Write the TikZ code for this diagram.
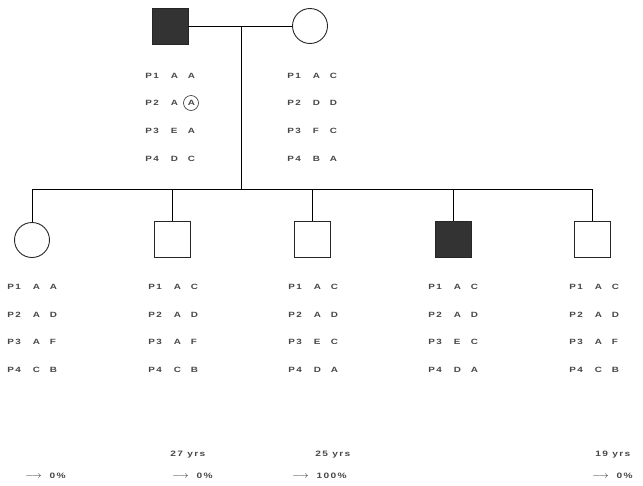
\documentclass[tikz,border=0pt]{standalone}
\usepackage{fontspec}
\newfontfamily\plotfont[FakeStretch=1.3,LetterSpace=18]{Liberation Sans Bold}
\begin{document}
\begin{tikzpicture}[x=1pt,y=-1pt,
  line width=0.9pt,
  sq/.style={draw=black!85,rectangle,minimum size=36pt,inner sep=0pt},
  aff/.style={sq,fill=black!80},
  fem/.style={draw=black!85,circle,minimum size=35pt,inner sep=0pt},
  geno/.style={anchor=west,inner sep=0pt,text=black!72,font=\plotfont\fontsize{7.6}{9}\selectfont},
  lbl/.style={anchor=west,inner sep=0pt,text=black!72,font=\plotfont\fontsize{7.8}{9}\selectfont}]
\useasboundingbox (0,0) rectangle (643,485);
\newcommand{\grow}[3]{\makebox[25.5pt][l]{#1}\makebox[17pt][l]{#2}#3}
% parents
\node[aff] (father) at (170,26) {};
\node[fem] (mother) at (310,26) {};
\draw (father) -- (mother);
\coordinate (mid) at (241,26);
\coordinate (sib) at (241,189);
\draw (mid) -- (sib);
% sibship
\coordinate (sibL) at (32,189);
\coordinate (sibR) at (592,189);
\draw (sibL) -- (sibR);
\node[fem] (c1) at (32,240) {};
\node[sq] (c2) at (172,239) {};
\node[sq] (c3) at (312,239) {};
\node[aff] (c4) at (453,239) {};
\node[sq] (c5) at (592,239) {};
\foreach \c in {c1,c2,c3,c4,c5} \draw (\c.north) -- (\c.north |- sibL);
% parent genotypes
\node[geno] (f1) at (145,76) {\grow{P1}{A}{A}};
\node[geno] (f2) at (145,103) {\grow{P2}{A}{A}};
\node[geno] (f3) at (145,131) {\grow{P3}{E}{A}};
\node[geno] (f4) at (145,159) {\grow{P4}{D}{C}};
\draw[line width=0.6pt,black!80] (191,103) circle (7.5);
\node[geno] (m1) at (287,76) {\grow{P1}{A}{C}};
\node[geno] (m2) at (287,103) {\grow{P2}{D}{D}};
\node[geno] (m3) at (287,131) {\grow{P3}{F}{C}};
\node[geno] (m4) at (287,159) {\grow{P4}{B}{A}};
% children genotypes
\node[geno] (a1) at (7,287) {\grow{P1}{A}{A}};
\node[geno] (a2) at (7,315) {\grow{P2}{A}{D}};
\node[geno] (a3) at (7,342) {\grow{P3}{A}{F}};
\node[geno] (a4) at (7,370) {\grow{P4}{C}{B}};
\node[geno] (b1) at (148,287) {\grow{P1}{A}{C}};
\node[geno] (b2) at (148,315) {\grow{P2}{A}{D}};
\node[geno] (b3) at (148,342) {\grow{P3}{A}{F}};
\node[geno] (b4) at (148,370) {\grow{P4}{C}{B}};
\node[geno] (d1) at (288,287) {\grow{P1}{A}{C}};
\node[geno] (d2) at (288,315) {\grow{P2}{A}{D}};
\node[geno] (d3) at (288,342) {\grow{P3}{E}{C}};
\node[geno] (d4) at (288,370) {\grow{P4}{D}{A}};
\node[geno] (e1) at (428,287) {\grow{P1}{A}{C}};
\node[geno] (e2) at (428,315) {\grow{P2}{A}{D}};
\node[geno] (e3) at (428,342) {\grow{P3}{E}{C}};
\node[geno] (e4) at (428,370) {\grow{P4}{D}{A}};
\node[geno] (g1) at (569,287) {\grow{P1}{A}{C}};
\node[geno] (g2) at (569,315) {\grow{P2}{A}{D}};
\node[geno] (g3) at (569,342) {\grow{P3}{A}{F}};
\node[geno] (g4) at (569,370) {\grow{P4}{C}{B}};
% ages and risks
\node[lbl] (y2) at (170,455) {27 yrs};
\node[lbl] (y3) at (315,455) {25 yrs};
\node[lbl] (y5) at (595,455) {19 yrs};
\newcommand{\risk}[1]{{\color{black!85}\fontsize{10}{10}\selectfont$\longrightarrow$}\hspace{8pt}#1}
\node[lbl] (r1) at (25,476) {\risk{0\%}};
\node[lbl] (r2) at (172,476) {\risk{0\%}};
\node[lbl] (r3) at (292,476) {\risk{100\%}};
\node[lbl] (r5) at (592,476) {\risk{0\%}};
\end{tikzpicture}
\end{document}
